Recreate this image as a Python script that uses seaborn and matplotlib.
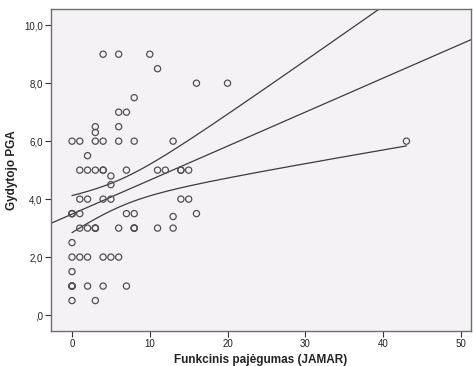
import numpy as np
import pandas as pd
import matplotlib
matplotlib.use("Agg")
import matplotlib.pyplot as plt
import seaborn as sns
from matplotlib.ticker import FixedLocator

# Data (x = grip strength, y = physician PGA)
# darker rings in the reference are overlapping (tied) observations
jamar = [4, 6, 10,
         11,
         16, 20,
         8,
         6, 7,
         3, 6,
         3,
         0, 1, 3, 4, 6, 8, 13,
         2,
         1, 2, 3, 4, 4, 7, 11, 12, 14, 14, 15,
         5,
         5,
         1, 2, 4, 5, 14, 15,
         0, 0, 0, 1, 7, 8, 16,
         13,
         1, 2, 3, 3, 3, 6, 8, 8, 8, 11, 13,
         0,
         0, 1, 2, 4, 5, 6,
         0,
         0, 0, 0, 0, 2, 4, 7,
         0, 3,
         43]
pga = [9.0, 9.0, 9.0,
       8.5,
       8.0, 8.0,
       7.5,
       7.0, 7.0,
       6.5, 6.5,
       6.3,
       6.0, 6.0, 6.0, 6.0, 6.0, 6.0, 6.0,
       5.5,
       5.0, 5.0, 5.0, 5.0, 5.0, 5.0, 5.0, 5.0, 5.0, 5.0, 5.0,
       4.8,
       4.5,
       4.0, 4.0, 4.0, 4.0, 4.0, 4.0,
       3.5, 3.5, 3.5, 3.5, 3.5, 3.5, 3.5,
       3.4,
       3.0, 3.0, 3.0, 3.0, 3.0, 3.0, 3.0, 3.0, 3.0, 3.0, 3.0,
       2.5,
       2.0, 2.0, 2.0, 2.0, 2.0, 2.0,
       1.5,
       1.0, 1.0, 1.0, 1.0, 1.0, 1.0, 1.0,
       0.5, 0.5,
       6.0]

x_ticks = [0, 10, 20, 30, 40, 50]
y_ticks = [0, 2, 4, 6, 8, 10]
y_tick_labels = [",0", "2,0", "4,0", "6,0", "8,0", "10,0"]

df = pd.DataFrame({"x": jamar, "y": pga})

# OLS fit and 95% CI of the mean
xv = np.asarray(jamar, float)
yv = np.asarray(pga, float)
n = len(xv)
b1, b0 = np.polyfit(xv, yv, 1)
resid = yv - (b0 + b1 * xv)
s = np.sqrt(np.sum(resid ** 2) / (n - 2))
sxx = np.sum((xv - xv.mean()) ** 2)
tval = 1.993

xlim = (-2.7, 51.3)
ylim = (-0.55, 10.56)

fit_x = np.linspace(xlim[0], xlim[1], 200)
fit_y = b0 + b1 * fit_x
ci_x = np.linspace(xv.min(), xv.max(), 200)
half = tval * s * np.sqrt(1.0 / n + (ci_x - xv.mean()) ** 2 / sxx)
ci_mid = b0 + b1 * ci_x

sns.set_style("white")
plt.rcParams['font.family'] = ['Liberation Sans', 'DejaVu Sans']

fig = plt.figure(figsize=(4.73, 3.66), dpi=100)
ax = fig.add_axes([51 / 473, 1 - 331 / 366, (471 - 51) / 473, (331 - 9) / 366])
ax.set_facecolor("#F5F2F5")

line_col = "#3C3C3C"
ax.plot(fit_x, fit_y, color=line_col, lw=0.9, zorder=2)
ax.plot(ci_x, ci_mid + half, color=line_col, lw=0.9, zorder=2)
ax.plot(ci_x, ci_mid - half, color=line_col, lw=0.9, zorder=2)

sns.scatterplot(data=df, x="x", y="y", ax=ax, marker="o", s=20,
                facecolor="none", edgecolor="#505050", linewidth=0.9,
                zorder=3, legend=False)

ax.set_xlim(*xlim)
ax.set_ylim(*ylim)
ax.xaxis.set_major_locator(FixedLocator(x_ticks))
ax.yaxis.set_major_locator(FixedLocator(y_ticks))
ax.set_yticklabels(y_tick_labels)
ax.tick_params(axis="both", direction="out", length=4, width=0.8,
               color="#333333", labelsize=7, labelcolor="#222222",
               bottom=True, left=True, pad=2)

for side in ["left", "bottom", "top", "right"]:
    ax.spines[side].set_color("#6E6E6E")
    ax.spines[side].set_linewidth(1.0)

ax.set_xlabel("Funkcinis pajėgumas (JAMAR)", fontsize=8.5, fontweight="bold",
              color="#222222", labelpad=3)
ax.set_ylabel("Gydytojo PGA", fontsize=8.5, fontweight="bold",
              color="#222222", labelpad=4)

fig.savefig("out.png", dpi=100, facecolor="white")
